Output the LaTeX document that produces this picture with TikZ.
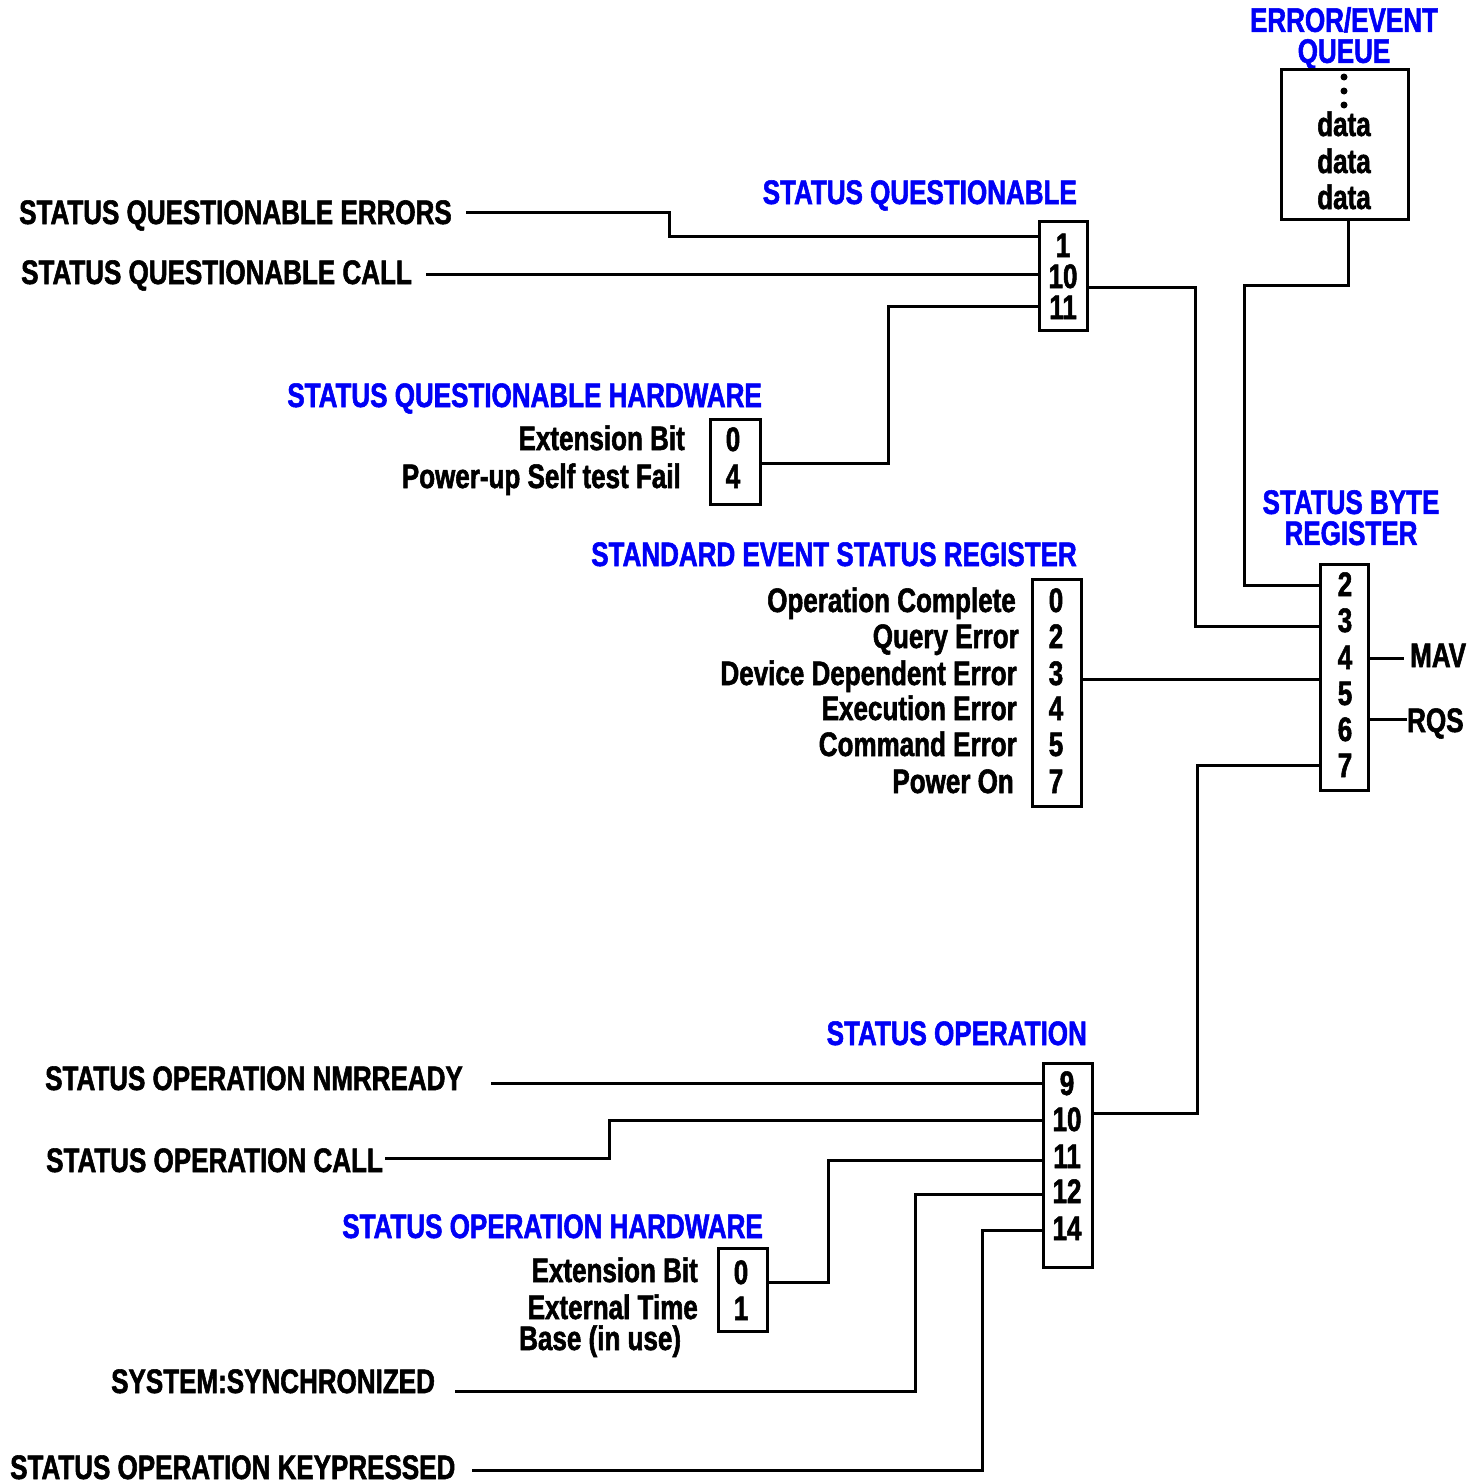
\documentclass[tikz,border=0pt]{standalone}
\usepackage{fontspec}
\setmainfont[FakeStretch=0.765, FakeBold=1.6]{Liberation Sans Bold}
\usetikzlibrary{calc}
\definecolor{tblue}{RGB}{0,0,245}
\tikzset{
  lbl/.style={font=\fontsize{34}{30}\selectfont, inner sep=0pt, text height=24pt, text depth=0pt},
  ttl/.style={lbl, text=tblue},
  ttlb/.style={font=\fontsize{34}{31}\selectfont, inner sep=0pt, text=tblue, align=center, anchor=north},
  wire/.style={line width=3pt},
  regbox/.style={draw, line width=3pt, inner sep=0pt},
  qdot/.style={circle, fill, inner sep=0pt, minimum size=7pt}
}
\begin{document}
\begin{tikzpicture}[x=1pt,y=-1pt]
\useasboundingbox (0,0) rectangle (1484,1484);

% ---------- Error/Event queue
\node[ttlb] (qt) at (1344,7) {ERROR/EVENT\\QUEUE};
\node[regbox, minimum width=127pt, minimum height=150pt] (queue) at (1344.5,144) {};
\node[qdot] (d1) at (1344,77) {};
\node[qdot] (d2) at (1344,91) {};
\node[qdot] (d3) at (1344,105) {};
\node[lbl] (da1) at (1344,124) {data};
\node[lbl] (da2) at (1344,161) {data};
\node[lbl] (da3) at (1344,197) {data};

% ---------- Status Questionable
\node[ttl, anchor=east] (sqt) at (1077,192) {STATUS QUESTIONABLE};
\node[regbox, minimum width=48pt, minimum height=109pt] (sq) at (1063,275.5) {};
\node[lbl] at (1063,245) {1};
\node[lbl] at (1063,276) {10};
\node[lbl] at (1063,307) {11};
\node[lbl, anchor=west] (qerr) at (19,212) {STATUS QUESTIONABLE ERRORS};
\node[lbl, anchor=west] (qcall) at (21,272) {STATUS QUESTIONABLE CALL};

% ---------- Status Questionable Hardware
\node[ttl, anchor=east] (qhwt) at (762,395) {STATUS QUESTIONABLE HARDWARE};
\node[regbox, minimum width=50pt, minimum height=85pt] (qhw) at (735,461.5) {};
\node[lbl] at (733,439) {0};
\node[lbl] at (733,476) {4};
\node[lbl, anchor=east] at (685,438) {Extension Bit};
\node[lbl, anchor=east] at (681,476) {Power-up Self test Fail};

% ---------- Standard Event Status Register
\node[ttl, anchor=east] (sest) at (1077,554) {STANDARD EVENT STATUS REGISTER};
\node[regbox, minimum width=49pt, minimum height=227pt] (ses) at (1056.5,692.5) {};
\foreach \n/\y in {0/600,2/636,3/673,4/708,5/744,7/781}
  \node[lbl] at (1056,\y) {\n};
\node[lbl, anchor=east] at (1016,600) {Operation Complete};
\node[lbl, anchor=east] at (1019,636) {Query Error};
\node[lbl, anchor=east] at (1017,673) {Device Dependent Error};
\node[lbl, anchor=east] at (1017,708) {Execution Error};
\node[lbl, anchor=east] at (1017,744) {Command Error};
\node[lbl, anchor=east] at (1014,781) {Power On};

% ---------- Status Byte Register
\node[ttlb] (sbt) at (1351,490) {STATUS BYTE\\REGISTER};
\node[regbox, minimum width=48pt, minimum height=226pt] (sb) at (1344,677) {};
\foreach \n/\y in {2/584,3/620,4/657,5/693,6/729,7/765}
  \node[lbl] at (1345,\y) {\n};
\node[lbl, anchor=west] (mav) at (1410,655) {MAV};
\node[lbl, anchor=west] (rqs) at (1407,720) {RQS};

% ---------- Status Operation
\node[ttl, anchor=east] (sot) at (1087,1033) {STATUS OPERATION};
\node[regbox, minimum width=49pt, minimum height=204pt] (so) at (1067.5,1165) {};
\foreach \n/\y in {9/1083,10/1119,11/1156,12/1191,14/1228}
  \node[lbl] at (1067,\y) {\n};
\node[lbl, anchor=west] (nmr) at (45,1078) {STATUS OPERATION NMRREADY};
\node[lbl, anchor=west] (ocall) at (46,1160) {STATUS OPERATION CALL};
\node[lbl, anchor=west] (sync) at (111,1381) {SYSTEM:SYNCHRONIZED};
\node[lbl, anchor=west] (keyp) at (10,1467) {STATUS OPERATION KEYPRESSED};

% ---------- Status Operation Hardware
\node[ttl, anchor=east] (ohwt) at (763,1226) {STATUS OPERATION HARDWARE};
\node[regbox, minimum width=49pt, minimum height=83pt] (ohw) at (742.5,1289.5) {};
\node[lbl] at (741,1272) {0};
\node[lbl] at (741,1308) {1};
\node[lbl, anchor=east] at (698,1270) {Extension Bit};
\node[lbl, anchor=east] at (698,1307) {External Time};
\node[lbl, anchor=west] at (519,1338) {Base (in use)};

% ---------- pins
\coordinate (qout) at (1348,219);
\coordinate (sqin1) at (1039,236);
\coordinate (sqin10) at (1039,274);
\coordinate (sqin11) at (1039,306);
\coordinate (sqout) at (1087,287);
\coordinate (qhwout) at (760,463);
\coordinate (sesout) at (1081,679);
\coordinate (sbin2) at (1320,585);
\coordinate (sbin3) at (1320,626);
\coordinate (sbin5) at (1320,679);
\coordinate (sbin7) at (1320,765);
\coordinate (sbo4) at (1368,658);
\coordinate (sbo6) at (1368,719);
\coordinate (soout) at (1092,1113);
\coordinate (soin9) at (1043,1083);
\coordinate (soin10) at (1043,1120);
\coordinate (soin11) at (1043,1160);
\coordinate (soin12) at (1043,1194);
\coordinate (soin14) at (1043,1230);
\coordinate (ohwout) at (767,1282);

% ---------- wires
\draw[wire] (qout) |- (1244,285) |- (sbin2);
\draw[wire] (466,212) -| (669,236) -- (sqin1);
\draw[wire] (426,274) -- (sqin10);
\draw[wire] (sqin11) -| (888,463) -- (qhwout);
\draw[wire] (sqout) -| (1195,626) -- (sbin3);
\draw[wire] (sesout) -- (sbin5);
\draw[wire] (sbo4) -- (1404,658);
\draw[wire] (sbo6) -- (rqs.west |- sbo6);
\draw[wire] (sbin7) -| (1197,1113) -- (soout);
\draw[wire] (491,1083) -- (soin9);
\draw[wire] (385,1158) -| (609,1120) -- (soin10);
\draw[wire] (soin11) -| (828,1282) -- (ohwout);
\draw[wire] (soin12) -| (915,1391) -- (455,1391);
\draw[wire] (soin14) -| (982,1470) -- (472,1470);
\end{tikzpicture}
\end{document}
